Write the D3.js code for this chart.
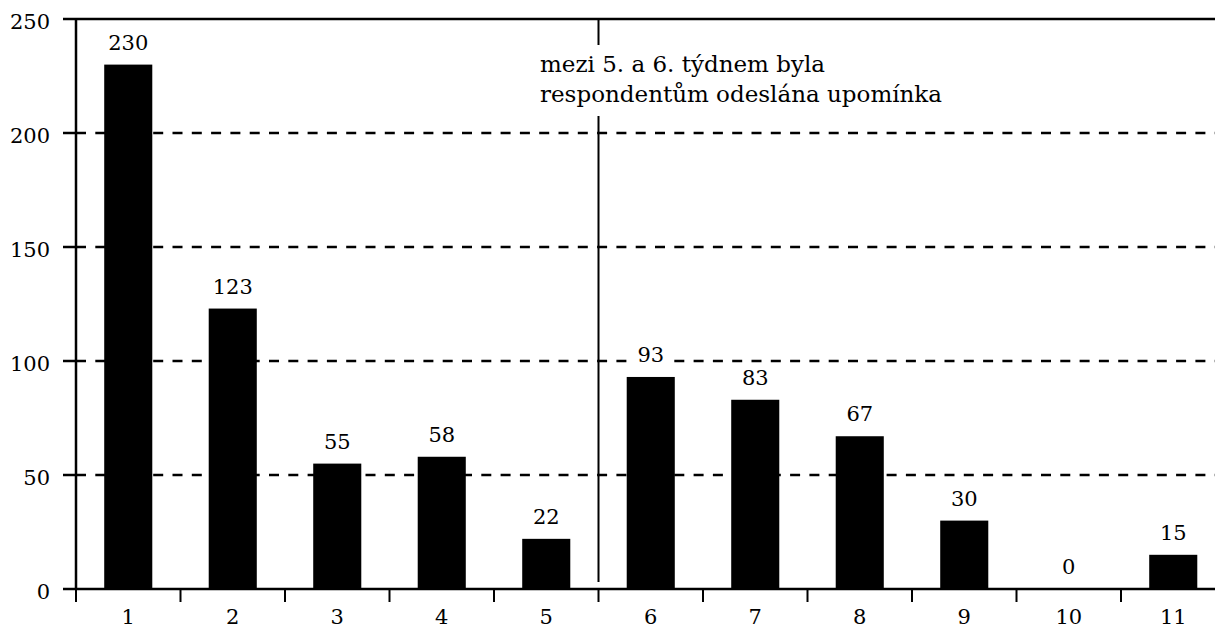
<!DOCTYPE html>
<html><head><meta charset="utf-8">
<script src="https://cdn.jsdelivr.net/npm/d3@7"></script>
<style>body{margin:0;background:#fff}svg{display:block}</style>
</head><body>
<script>
const categories = ["1","2","3","4","5","6","7","8","9","10","11"];
const values = [230,123,55,58,22,93,83,67,30,0,15];
const yTicks = [0,50,100,150,200,250];
const gridTicks = [50,100,150,200];
const noteLines = ["mezi 5. a 6. týdnem byla","respondentům odeslána upomínka"];
const font = "DejaVu Serif";

const W=1215,H=629;
const mLeft=76, mTop=19, mBottom=589, band=104.5;
const svg=d3.select("body").append("svg").attr("width",W).attr("height",H);
const x=d3.scaleBand().domain(categories).range([mLeft,mLeft+band*categories.length]).paddingInner(0).paddingOuter(0);
const y=d3.scaleLinear().domain([0,250]).range([mBottom,mTop]);
const bw=x.bandwidth()*0.46;

// grid
svg.append("g").selectAll("line").data(gridTicks).join("line")
 .attr("x1",mLeft).attr("x2",W).attr("y1",d=>y(d)).attr("y2",d=>y(d))
 .attr("stroke","#000").attr("stroke-width",2.5).attr("stroke-dasharray","10,9.3");
// top border
svg.append("line").attr("x1",mLeft).attr("x2",W).attr("y1",y(250)).attr("y2",y(250)).attr("stroke","#000").attr("stroke-width",2.5);

// bars
svg.append("g").selectAll("rect").data(values).join("rect")
 .attr("x",(d,i)=>x(categories[i])+x.bandwidth()/2-bw/2).attr("width",bw)
 .attr("y",d=>y(d)).attr("height",d=>mBottom-y(d)).attr("fill","#000");
// value labels with white background
const lg=svg.append("g");
const bgG=lg.append("g");
const lbl=lg.append("g").selectAll("text").data(values).join("text")
 .attr("x",(d,i)=>x(categories[i])+x.bandwidth()/2).attr("y",d=>y(d)-15)
 .attr("text-anchor","middle").attr("font-family",font).attr("font-size",21).text(d=>d);
lbl.each(function(){const b=this.getBBox();bgG.append("rect").attr("x",b.x-3).attr("y",b.y+2).attr("width",b.width+6).attr("height",b.height-2).attr("fill","#fff");});

// reminder line
const xr=x(categories[5]);
svg.append("line").attr("x1",xr).attr("x2",xr).attr("y1",mTop).attr("y2",mBottom-7).attr("stroke","#000").attr("stroke-width",2);
const note=svg.append("g");
note.append("rect").attr("x",xr-6).attr("y",45).attr("width",360).attr("height",71).attr("fill","#fff");
note.selectAll("text").data(noteLines).join("text").attr("x",540).attr("y",(d,i)=>72+i*30)
 .attr("font-family",font).attr("font-size",23).text(d=>d);

// y axis
const ya=svg.append("g");
ya.append("line").attr("x1",mLeft).attr("x2",mLeft).attr("y1",mTop-1).attr("y2",mBottom+1).attr("stroke","#000").attr("stroke-width",2.5);
ya.selectAll("line.t").data(yTicks).join("line").attr("class","t").attr("x1",63).attr("x2",mLeft).attr("y1",d=>y(d)).attr("y2",d=>y(d)).attr("stroke","#000").attr("stroke-width",2.5);
ya.selectAll("text").data(yTicks).join("text").attr("x",50).attr("y",d=>y(d)+3).attr("dominant-baseline","central")
 .attr("text-anchor","end").attr("font-family",font).attr("font-size",21).text(d=>d);

// x axis
const xa=svg.append("g");
xa.append("line").attr("x1",mLeft).attr("x2",W).attr("y1",mBottom).attr("y2",mBottom).attr("stroke","#000").attr("stroke-width",2.5);
const bounds=categories.map(c=>x(c));
xa.selectAll("line.t").data(bounds).join("line").attr("class","t").attr("x1",d=>d).attr("x2",d=>d).attr("y1",mBottom).attr("y2",mBottom+13).attr("stroke","#000").attr("stroke-width",2);
xa.selectAll("text").data(categories).join("text").attr("x",d=>x(d)+x.bandwidth()/2).attr("y",624)
 .attr("text-anchor","middle").attr("font-family",font).attr("font-size",21).text(d=>d);
</script>
</body></html>
